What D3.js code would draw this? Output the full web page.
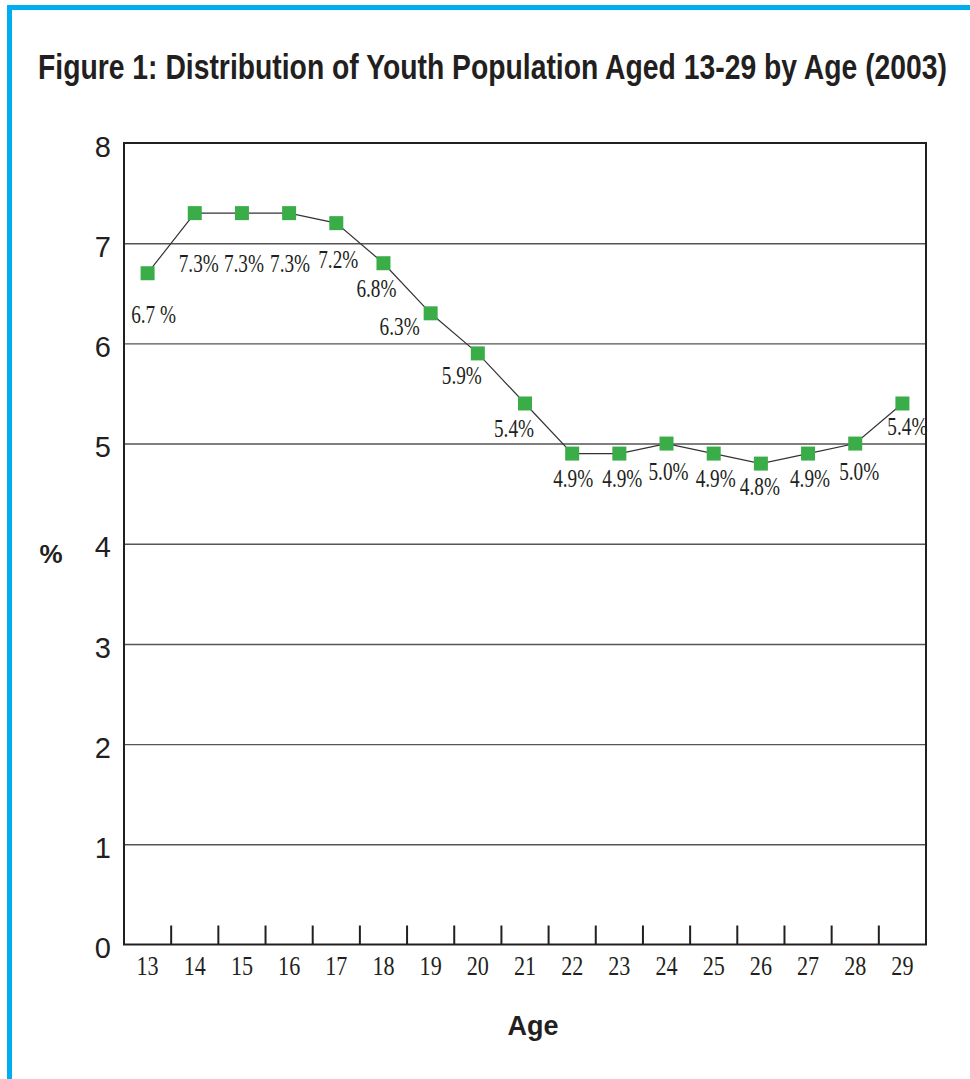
<!DOCTYPE html>
<head>
  <meta charset="utf-8">
  <script src="https://d3js.org/d3.v7.min.js"></script>
  <style>
    body { margin: 0; background: #fff; }
    .ylab text { font-family: "Liberation Sans", Arial, sans-serif; font-size: 29px; fill: #231f20; }
    .xlab text { font-family: "Liberation Serif", "Times New Roman", serif; font-size: 28px; fill: #231f20; }
    .val { font-family: "Liberation Serif", "Times New Roman", serif; font-size: 26px; fill: #231f20; }
    .bold { font-family: "Liberation Sans", Arial, sans-serif; font-weight: bold; fill: #231f20; }
  </style>
</head>
<body>
<script>
    // data
    var ages = [13, 14, 15, 16, 17, 18, 19, 20, 21, 22, 23, 24, 25, 26, 27, 28, 29];
    var shares = [6.7, 7.3, 7.3, 7.3, 7.2, 6.8, 6.3, 5.9, 5.4, 4.9, 4.9, 5.0, 4.9, 4.8, 4.9, 5.0, 5.4];
    var valueText = ["6.7 %", "7.3%", "7.3%", "7.3%", "7.2%", "6.8%", "6.3%", "5.9%", "5.4%",
                     "4.9%", "4.9%", "5.0%", "4.9%", "4.8%", "4.9%", "5.0%", "5.4%"];
    var yTicks = [0, 1, 2, 3, 4, 5, 6, 7, 8];

    // where each value label sits relative to its marker
    var nudge = [[6, 50], [4, 59], [2, 59], [1, 59], [2, 45], [-7, 34], [-31, 22], [-16, 31], [-11, 34],
                 [1, 33], [3, 33], [2, 36], [2, 33], [-1, 31], [2, 33], [4, 36], [5, 32]];

    var w = 970, h = 1079;
    // careful: "top" is window.top, so use other names
    var plotL = 124, plotR = 926, plotT = 143, plotB = 944.5;

    var svg = d3.select("body").append("svg")
        .attr("width", w)
        .attr("height", h);

    // blue frame on top and left
    svg.append("rect").attr("x", 7).attr("y", 5).attr("width", w - 7).attr("height", 5).attr("fill", "#00aeef");
    svg.append("rect").attr("x", 7).attr("y", 5).attr("width", 5).attr("height", h - 5).attr("fill", "#00aeef");

    var xScale = d3.scaleBand().domain(ages).range([plotL, plotR]).padding(0);
    var yScale = d3.scaleLinear().domain([0, 8]).range([plotB, plotT]);

    // grid lines
    svg.append("g")
        .attr("transform", "translate(" + plotL + ",0)")
        .call(d3.axisLeft(yScale).tickValues(yTicks.slice(1, -1)).tickSize(-(plotR - plotL)).tickFormat(""))
        .call(function(g) {
            g.select(".domain").remove();
            g.selectAll("line").attr("stroke", "#555").attr("stroke-width", 1.4);
        });

    // y labels
    svg.append("g")
        .attr("class", "ylab")
        .attr("transform", "translate(" + (plotL - 13) + ",0)")
        .call(d3.axisLeft(yScale).tickValues(yTicks).tickSize(0).tickPadding(0).tickFormat(d3.format("d")))
        .call(function(g) {
            g.select(".domain").remove();
            g.selectAll("text").attr("dy", "0.45em");
        });

    // x labels
    var xg = svg.append("g")
        .attr("class", "xlab")
        .attr("transform", "translate(0," + plotB + ")")
        .call(d3.axisBottom(xScale).tickSize(0).tickPadding(0))
        .call(function(g) {
            g.select(".domain").remove();
            g.selectAll("text").attr("dy", null).attr("y", 30);
        });
    xg.selectAll("text").each(function() {
        var len = this.getComputedTextLength();
        d3.select(this).attr("textLength", len * 0.79).attr("lengthAdjust", "spacingAndGlyphs");
    });

    // tick marks between categories, pointing up
    svg.append("g").selectAll("line")
        .data(ages.slice(1))
        .enter().append("line")
        .attr("x1", function(d) { return xScale(d); })
        .attr("x2", function(d) { return xScale(d); })
        .attr("y1", plotB)
        .attr("y2", plotB - 19)
        .attr("stroke", "#231f20")
        .attr("stroke-width", 2);

    // line
    var line = d3.line()
        .x(function(d, i) { return xScale(ages[i]) + xScale.bandwidth() / 2; })
        .y(function(d) { return yScale(d); });
    svg.append("path")
        .datum(shares)
        .attr("d", line)
        .attr("fill", "none")
        .attr("stroke", "#333")
        .attr("stroke-width", 1.2);

    // markers
    svg.append("g").selectAll("rect")
        .data(shares)
        .enter().append("rect")
        .attr("x", function(d, i) { return xScale(ages[i]) + xScale.bandwidth() / 2 - 7; })
        .attr("y", function(d) { return yScale(d) - 7; })
        .attr("width", 14)
        .attr("height", 14)
        .attr("fill", "#3aad49");

    // value labels
    svg.append("g").selectAll("text")
        .data(shares)
        .enter().append("text")
        .attr("class", "val")
        .attr("text-anchor", "middle")
        .attr("x", function(d, i) { return xScale(ages[i]) + xScale.bandwidth() / 2 + nudge[i][0]; })
        .attr("y", function(d, i) { return yScale(d) + nudge[i][1]; })
        .text(function(d, i) { return valueText[i]; })
        .each(function() {
            var len = this.getComputedTextLength();
            d3.select(this).attr("textLength", len * 0.74).attr("lengthAdjust", "spacingAndGlyphs");
        });

    // frame of the plot
    svg.append("rect")
        .attr("x", plotL).attr("y", plotT)
        .attr("width", plotR - plotL).attr("height", plotB - plotT)
        .attr("fill", "none")
        .attr("stroke", "#231f20")
        .attr("stroke-width", 2);

    // title and axis names
    var title = svg.append("text")
        .attr("class", "bold")
        .attr("x", 38).attr("y", 79)
        .style("font-size", "35px")
        .text("Figure 1: Distribution of Youth Population Aged 13-29 by Age (2003)");
    title.attr("textLength", 909).attr("lengthAdjust", "spacingAndGlyphs");

    svg.append("text")
        .attr("class", "bold")
        .attr("x", 51).attr("y", 563)
        .attr("text-anchor", "middle")
        .style("font-size", "26px")
        .text("%");

    svg.append("text")
        .attr("class", "bold")
        .attr("x", 533).attr("y", 1035)
        .attr("text-anchor", "middle")
        .style("font-size", "27px")
        .text("Age");
</script>
</body>
